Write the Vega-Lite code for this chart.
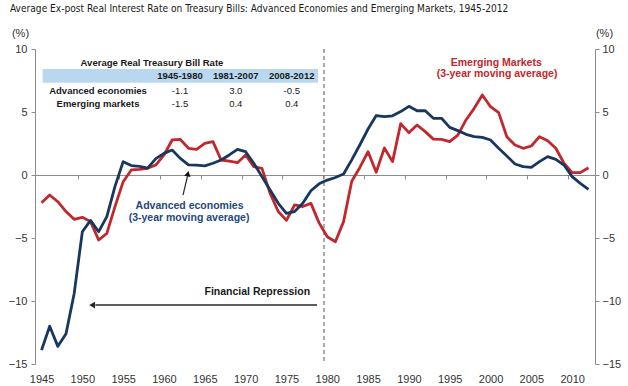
{
  "$schema": "https://vega.github.io/schema/vega-lite/v6.json",
  "width": 560,
  "height": 315,
  "autosize": {"type": "none"},
  "padding": {"left": 35, "top": 49, "right": 33, "bottom": 22},
  "background": "white",
  "config": {"view": {"stroke": null}, "font": "Liberation Sans"},
  "title": {"text": "Average Ex-post Real Interest Rate on Treasury Bills: Advanced Economies and Emerging Markets, 1945-2012", "anchor": "start", "frame": "group", "offset": 13, "dx": -25, "font": "'Liberation Sans Narrow', 'DejaVu Sans Condensed', 'Liberation Sans', sans-serif", "fontSize": 10.1, "fontWeight": "normal", "color": "#1a1a1a"},
  "datasets": {
    "rates": [
      {"year": 1945, "series": "Advanced economies", "value": -13.9},
      {"year": 1946, "series": "Advanced economies", "value": -12.0},
      {"year": 1947, "series": "Advanced economies", "value": -13.6},
      {"year": 1948, "series": "Advanced economies", "value": -12.6},
      {"year": 1949, "series": "Advanced economies", "value": -9.4},
      {"year": 1950, "series": "Advanced economies", "value": -4.5},
      {"year": 1951, "series": "Advanced economies", "value": -3.6},
      {"year": 1952, "series": "Advanced economies", "value": -4.5},
      {"year": 1953, "series": "Advanced economies", "value": -3.3},
      {"year": 1954, "series": "Advanced economies", "value": -0.9},
      {"year": 1955, "series": "Advanced economies", "value": 1.06},
      {"year": 1956, "series": "Advanced economies", "value": 0.75},
      {"year": 1957, "series": "Advanced economies", "value": 0.68},
      {"year": 1958, "series": "Advanced economies", "value": 0.55},
      {"year": 1959, "series": "Advanced economies", "value": 1.3},
      {"year": 1960, "series": "Advanced economies", "value": 1.72},
      {"year": 1961, "series": "Advanced economies", "value": 1.98},
      {"year": 1962, "series": "Advanced economies", "value": 1.32},
      {"year": 1963, "series": "Advanced economies", "value": 0.8},
      {"year": 1964, "series": "Advanced economies", "value": 0.79},
      {"year": 1965, "series": "Advanced economies", "value": 0.72},
      {"year": 1966, "series": "Advanced economies", "value": 0.93},
      {"year": 1967, "series": "Advanced economies", "value": 1.19},
      {"year": 1968, "series": "Advanced economies", "value": 1.59},
      {"year": 1969, "series": "Advanced economies", "value": 2.04},
      {"year": 1970, "series": "Advanced economies", "value": 1.85},
      {"year": 1971, "series": "Advanced economies", "value": 0.93},
      {"year": 1972, "series": "Advanced economies", "value": -0.13},
      {"year": 1973, "series": "Advanced economies", "value": -1.19},
      {"year": 1974, "series": "Advanced economies", "value": -2.25},
      {"year": 1975, "series": "Advanced economies", "value": -3.04},
      {"year": 1976, "series": "Advanced economies", "value": -2.9},
      {"year": 1977, "series": "Advanced economies", "value": -2.25},
      {"year": 1978, "series": "Advanced economies", "value": -1.25},
      {"year": 1979, "series": "Advanced economies", "value": -0.7},
      {"year": 1980, "series": "Advanced economies", "value": -0.4},
      {"year": 1981, "series": "Advanced economies", "value": -0.2},
      {"year": 1982, "series": "Advanced economies", "value": 0.08},
      {"year": 1983, "series": "Advanced economies", "value": 1.2},
      {"year": 1984, "series": "Advanced economies", "value": 2.4},
      {"year": 1985, "series": "Advanced economies", "value": 3.65},
      {"year": 1986, "series": "Advanced economies", "value": 4.72},
      {"year": 1987, "series": "Advanced economies", "value": 4.63},
      {"year": 1988, "series": "Advanced economies", "value": 4.7},
      {"year": 1989, "series": "Advanced economies", "value": 5.03},
      {"year": 1990, "series": "Advanced economies", "value": 5.45},
      {"year": 1991, "series": "Advanced economies", "value": 5.1},
      {"year": 1992, "series": "Advanced economies", "value": 5.1},
      {"year": 1993, "series": "Advanced economies", "value": 4.5},
      {"year": 1994, "series": "Advanced economies", "value": 4.5},
      {"year": 1995, "series": "Advanced economies", "value": 3.78},
      {"year": 1996, "series": "Advanced economies", "value": 3.52},
      {"year": 1997, "series": "Advanced economies", "value": 3.23},
      {"year": 1998, "series": "Advanced economies", "value": 3.04},
      {"year": 1999, "series": "Advanced economies", "value": 2.99},
      {"year": 2000, "series": "Advanced economies", "value": 2.78},
      {"year": 2001, "series": "Advanced economies", "value": 2.12},
      {"year": 2002, "series": "Advanced economies", "value": 1.51},
      {"year": 2003, "series": "Advanced economies", "value": 0.87},
      {"year": 2004, "series": "Advanced economies", "value": 0.66},
      {"year": 2005, "series": "Advanced economies", "value": 0.61},
      {"year": 2006, "series": "Advanced economies", "value": 1.06},
      {"year": 2007, "series": "Advanced economies", "value": 1.46},
      {"year": 2008, "series": "Advanced economies", "value": 1.24},
      {"year": 2009, "series": "Advanced economies", "value": 0.79},
      {"year": 2010, "series": "Advanced economies", "value": -0.13},
      {"year": 2011, "series": "Advanced economies", "value": -0.66},
      {"year": 2012, "series": "Advanced economies", "value": -1.14},
      {"year": 1945, "series": "Emerging markets", "value": -2.2},
      {"year": 1946, "series": "Emerging markets", "value": -1.59},
      {"year": 1947, "series": "Emerging markets", "value": -2.12},
      {"year": 1948, "series": "Emerging markets", "value": -2.9},
      {"year": 1949, "series": "Emerging markets", "value": -3.52},
      {"year": 1950, "series": "Emerging markets", "value": -3.36},
      {"year": 1951, "series": "Emerging markets", "value": -3.7},
      {"year": 1952, "series": "Emerging markets", "value": -5.16},
      {"year": 1953, "series": "Emerging markets", "value": -4.63},
      {"year": 1954, "series": "Emerging markets", "value": -2.51},
      {"year": 1955, "series": "Emerging markets", "value": -0.53},
      {"year": 1956, "series": "Emerging markets", "value": 0.4},
      {"year": 1957, "series": "Emerging markets", "value": 0.45},
      {"year": 1958, "series": "Emerging markets", "value": 0.53},
      {"year": 1959, "series": "Emerging markets", "value": 0.79},
      {"year": 1960, "series": "Emerging markets", "value": 1.59},
      {"year": 1961, "series": "Emerging markets", "value": 2.78},
      {"year": 1962, "series": "Emerging markets", "value": 2.83},
      {"year": 1963, "series": "Emerging markets", "value": 2.12},
      {"year": 1964, "series": "Emerging markets", "value": 2.04},
      {"year": 1965, "series": "Emerging markets", "value": 2.51},
      {"year": 1966, "series": "Emerging markets", "value": 2.65},
      {"year": 1967, "series": "Emerging markets", "value": 1.19},
      {"year": 1968, "series": "Emerging markets", "value": 1.1},
      {"year": 1969, "series": "Emerging markets", "value": 0.98},
      {"year": 1970, "series": "Emerging markets", "value": 1.59},
      {"year": 1971, "series": "Emerging markets", "value": 0.66},
      {"year": 1972, "series": "Emerging markets", "value": 0.53},
      {"year": 1973, "series": "Emerging markets", "value": -1.46},
      {"year": 1974, "series": "Emerging markets", "value": -2.9},
      {"year": 1975, "series": "Emerging markets", "value": -3.6},
      {"year": 1976, "series": "Emerging markets", "value": -2.38},
      {"year": 1977, "series": "Emerging markets", "value": -2.5},
      {"year": 1978, "series": "Emerging markets", "value": -2.25},
      {"year": 1979, "series": "Emerging markets", "value": -3.8},
      {"year": 1980, "series": "Emerging markets", "value": -4.9},
      {"year": 1981, "series": "Emerging markets", "value": -5.3},
      {"year": 1982, "series": "Emerging markets", "value": -3.7},
      {"year": 1983, "series": "Emerging markets", "value": -0.5},
      {"year": 1984, "series": "Emerging markets", "value": 0.6},
      {"year": 1985, "series": "Emerging markets", "value": 1.85},
      {"year": 1986, "series": "Emerging markets", "value": 0.22},
      {"year": 1987, "series": "Emerging markets", "value": 2.15},
      {"year": 1988, "series": "Emerging markets", "value": 1.06},
      {"year": 1989, "series": "Emerging markets", "value": 4.08},
      {"year": 1990, "series": "Emerging markets", "value": 3.36},
      {"year": 1991, "series": "Emerging markets", "value": 3.97},
      {"year": 1992, "series": "Emerging markets", "value": 3.44},
      {"year": 1993, "series": "Emerging markets", "value": 2.85},
      {"year": 1994, "series": "Emerging markets", "value": 2.82},
      {"year": 1995, "series": "Emerging markets", "value": 2.65},
      {"year": 1996, "series": "Emerging markets", "value": 3.17},
      {"year": 1997, "series": "Emerging markets", "value": 4.37},
      {"year": 1998, "series": "Emerging markets", "value": 5.29},
      {"year": 1999, "series": "Emerging markets", "value": 6.35},
      {"year": 2000, "series": "Emerging markets", "value": 5.42},
      {"year": 2001, "series": "Emerging markets", "value": 4.95},
      {"year": 2002, "series": "Emerging markets", "value": 3.04},
      {"year": 2003, "series": "Emerging markets", "value": 2.38},
      {"year": 2004, "series": "Emerging markets", "value": 2.12},
      {"year": 2005, "series": "Emerging markets", "value": 2.3},
      {"year": 2006, "series": "Emerging markets", "value": 3.04},
      {"year": 2007, "series": "Emerging markets", "value": 2.72},
      {"year": 2008, "series": "Emerging markets", "value": 2.12},
      {"year": 2009, "series": "Emerging markets", "value": 0.93},
      {"year": 2010, "series": "Emerging markets", "value": 0.19},
      {"year": 2011, "series": "Emerging markets", "value": 0.19},
      {"year": 2012, "series": "Emerging markets", "value": 0.58}
    ]
  },
  "resolve": {"axis": {"x": "independent", "y": "independent"}},
  "layer": [
    {
      "data": {"values": [{"x1": 1945.14, "x2": 1978.87, "y1": 8.41, "y2": 7.33}]},
      "mark": {"type": "rect", "color": "#B9D8F0"},
      "encoding": {
        "x": {"field": "x1", "type": "quantitative", "scale": {"domain": [1944.2, 2012.8], "nice": false, "zero": false}, "axis": null},
        "x2": {"field": "x2"},
        "y": {"field": "y1", "type": "quantitative", "scale": {"domain": [-15, 10], "nice": false, "zero": false}, "axis": null},
        "y2": {"field": "y2"}
      }
    },
    {
      "data": {"values": [{"year": 1979.6}]},
      "mark": {"type": "rule", "color": "#7f7f7f", "strokeDash": [4, 3], "strokeWidth": 1.3},
      "encoding": {
        "x": {"field": "year", "type": "quantitative", "scale": {"domain": [1944.2, 2012.8], "nice": false, "zero": false},
          "axis": {"orient": "bottom", "offset": -189, "title": null, "labels": false, "grid": false, "domain": true, "domainColor": "#8c8c8c", "domainWidth": 1.2, "ticks": true, "tickColor": "#8c8c8c", "tickSize": 4, "values": [1949.5, 1954.5, 1959.5, 1964.5, 1969.5, 1974.5, 1979.5, 1984.5, 1989.5, 1994.5, 1999.5, 2004.5, 2009.5]}}
      }
    },
    {
      "data": {"name": "rates"},
      "transform": [{"filter": "datum.series === 'Emerging markets'"}],
      "mark": {"type": "line", "color": "#C0282D", "strokeWidth": 2.8, "strokeJoin": "round"},
      "encoding": {
        "x": {"field": "year", "type": "quantitative", "scale": {"domain": [1944.2, 2012.8], "nice": false, "zero": false},
          "axis": {"orient": "bottom", "title": null, "domain": false, "ticks": false, "grid": false, "labelPadding": 9, "labelFontSize": 11, "labelColor": "#333333", "labelFont": "Liberation Sans", "values": [1945, 1950, 1955, 1960, 1965, 1970, 1975, 1980, 1985, 1990, 1995, 2000, 2005, 2010], "format": "d", "labelFlush": false}},
        "y": {"field": "value", "type": "quantitative", "scale": {"domain": [-15, 10], "nice": false, "zero": false},
          "axis": {"orient": "left", "title": "(%)", "titleAngle": 0, "titleAlign": "center", "titleBaseline": "bottom", "titleX": -15, "titleY": -11, "titleFontSize": 11, "titleFontWeight": "normal", "titleColor": "#333333", "grid": false, "domainColor": "#8c8c8c", "tickColor": "#8c8c8c", "tickSize": 4, "labelPadding": 4, "labelFontSize": 11, "labelColor": "#333333", "values": [-15, -10, -5, 0, 5, 10]}}
      }
    },
    {
      "data": {"name": "rates"},
      "transform": [{"filter": "datum.series === 'Advanced economies'"}],
      "mark": {"type": "line", "color": "#17375E", "strokeWidth": 2.8, "strokeJoin": "round"},
      "encoding": {
        "x": {"field": "year", "type": "quantitative", "scale": {"domain": [1944.2, 2012.8], "nice": false, "zero": false}, "axis": null},
        "y": {"field": "value", "type": "quantitative", "scale": {"domain": [-15, 10], "nice": false, "zero": false},
          "axis": {"orient": "right", "title": "(%)", "titleAngle": 0, "titleAlign": "center", "titleBaseline": "bottom", "titleX": 9, "titleY": -11, "titleFontSize": 11, "titleFontWeight": "normal", "titleColor": "#333333", "grid": false, "domainColor": "#8c8c8c", "tickColor": "#8c8c8c", "tickSize": 4, "labelPadding": 3, "labelFontSize": 11, "labelColor": "#333333", "values": [-15, -10, -5, 0, 5, 10]}}
      }
    },
    {
      "data": {"values": [{"x1": 1978.75, "x2": 1951.6, "v": -10.32}]},
      "mark": {"type": "rule", "color": "#262626", "strokeWidth": 1.5},
      "encoding": {
        "x": {"field": "x1", "type": "quantitative", "scale": {"domain": [1944.2, 2012.8], "nice": false, "zero": false}, "axis": null},
        "x2": {"field": "x2"},
        "y": {"field": "v", "type": "quantitative", "scale": {"domain": [-15, 10], "nice": false, "zero": false}, "axis": null}
      }
    },
    {
      "data": {"values": [{"x": 1951.2, "v": -10.32}]},
      "mark": {"type": "point", "shape": "triangle-left", "filled": true, "color": "#262626", "size": 45, "opacity": 1},
      "encoding": {
        "x": {"field": "x", "type": "quantitative", "scale": {"domain": [1944.2, 2012.8], "nice": false, "zero": false}, "axis": null},
        "y": {"field": "v", "type": "quantitative", "scale": {"domain": [-15, 10], "nice": false, "zero": false}, "axis": null}
      }
    },
    {
      "data": {"values": [{"x1": 1962.33, "v1": -1.59, "x2": 1962.88, "v2": -0.1}]},
      "mark": {"type": "rule", "color": "#262626", "strokeWidth": 1.2},
      "encoding": {
        "x": {"field": "x1", "type": "quantitative", "scale": {"domain": [1944.2, 2012.8], "nice": false, "zero": false}, "axis": null},
        "x2": {"field": "x2"},
        "y": {"field": "v1", "type": "quantitative", "scale": {"domain": [-15, 10], "nice": false, "zero": false}, "axis": null},
        "y2": {"field": "v2"}
      }
    },
    {
      "data": {"values": [{"x": 1962.93, "v": 0.1}]},
      "mark": {"type": "point", "shape": "triangle-up", "filled": true, "color": "#111111", "size": 40, "opacity": 1, "angle": 12},
      "encoding": {
        "x": {"field": "x", "type": "quantitative", "scale": {"domain": [1944.2, 2012.8], "nice": false, "zero": false}, "axis": null},
        "y": {"field": "v", "type": "quantitative", "scale": {"domain": [-15, 10], "nice": false, "zero": false}, "axis": null}
      }
    },
    {
      "data": {"values": [
        {"x": 2000.7, "v": 8.89, "label": "Emerging Markets"},
        {"x": 2000.8, "v": 8.02, "label": "(3-year moving average)"}
      ]},
      "mark": {"type": "text", "color": "#C0282D", "fontSize": 10.5, "fontWeight": "bold", "baseline": "middle", "align": "center"},
      "encoding": {
        "x": {"field": "x", "type": "quantitative", "scale": {"domain": [1944.2, 2012.8], "nice": false, "zero": false}, "axis": null},
        "y": {"field": "v", "type": "quantitative", "scale": {"domain": [-15, 10], "nice": false, "zero": false}, "axis": null},
        "text": {"field": "label"}
      }
    },
    {
      "data": {"values": [
        {"x": 1963.13, "v": -2.46, "label": "Advanced economies"},
        {"x": 1963.07, "v": -3.41, "label": "(3-year moving average)"}
      ]},
      "mark": {"type": "text", "color": "#1F497D", "fontSize": 10.5, "fontWeight": "bold", "baseline": "middle", "align": "center"},
      "encoding": {
        "x": {"field": "x", "type": "quantitative", "scale": {"domain": [1944.2, 2012.8], "nice": false, "zero": false}, "axis": null},
        "y": {"field": "v", "type": "quantitative", "scale": {"domain": [-15, 10], "nice": false, "zero": false}, "axis": null},
        "text": {"field": "label"}
      }
    },
    {
      "data": {"values": [{"x": 1977.9, "v": -9.29, "label": "Financial Repression"}]},
      "mark": {"type": "text", "color": "#1a1a1a", "fontSize": 10.5, "fontWeight": "bold", "baseline": "middle", "align": "right"},
      "encoding": {
        "x": {"field": "x", "type": "quantitative", "scale": {"domain": [1944.2, 2012.8], "nice": false, "zero": false}, "axis": null},
        "y": {"field": "v", "type": "quantitative", "scale": {"domain": [-15, 10], "nice": false, "zero": false}, "axis": null},
        "text": {"field": "label"}
      }
    },
    {
      "data": {"values": [
        {"x": 1958.53, "v": 8.91, "label": "Average Real Treasury Bill Rate"},
        {"x": 1961.96, "v": 7.86, "label": "1945-1980"},
        {"x": 1968.79, "v": 7.86, "label": "1981-2007"},
        {"x": 1975.65, "v": 7.86, "label": "2008-2012"},
        {"x": 1951.92, "v": 6.67, "label": "Advanced economies"},
        {"x": 1951.92, "v": 5.61, "label": "Emerging markets"}
      ]},
      "mark": {"type": "text", "color": "#1a1a1a", "fontSize": 9.5, "fontWeight": "bold", "baseline": "middle", "align": "center"},
      "encoding": {
        "x": {"field": "x", "type": "quantitative", "scale": {"domain": [1944.2, 2012.8], "nice": false, "zero": false}, "axis": null},
        "y": {"field": "v", "type": "quantitative", "scale": {"domain": [-15, 10], "nice": false, "zero": false}, "axis": null},
        "text": {"field": "label"}
      }
    },
    {
      "data": {"values": [
        {"x": 1961.96, "v": 6.67, "label": "-1.1"},
        {"x": 1968.79, "v": 6.67, "label": "3.0"},
        {"x": 1975.65, "v": 6.67, "label": "-0.5"},
        {"x": 1961.96, "v": 5.61, "label": "-1.5"},
        {"x": 1968.79, "v": 5.61, "label": "0.4"},
        {"x": 1975.65, "v": 5.61, "label": "0.4"}
      ]},
      "mark": {"type": "text", "color": "#1a1a1a", "fontSize": 9.5, "fontWeight": "normal", "baseline": "middle", "align": "center"},
      "encoding": {
        "x": {"field": "x", "type": "quantitative", "scale": {"domain": [1944.2, 2012.8], "nice": false, "zero": false}, "axis": null},
        "y": {"field": "v", "type": "quantitative", "scale": {"domain": [-15, 10], "nice": false, "zero": false}, "axis": null},
        "text": {"field": "label"}
      }
    }
  ]
}
